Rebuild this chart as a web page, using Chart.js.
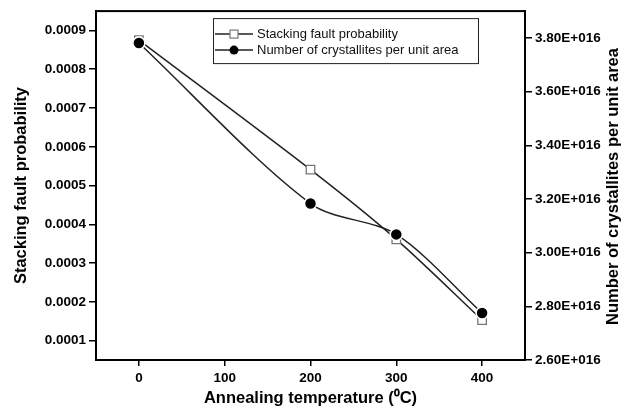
<!DOCTYPE html>
<html><head><meta charset="utf-8">
<script src="https://cdn.jsdelivr.net/npm/chart.js@4.4.1/dist/chart.umd.min.js"></script>
<style>html,body{margin:0;padding:0;background:#fff}</style>
</head><body>
<canvas id="c" width="627" height="416"></canvas>
<script>
// ---- data ----
const temperatures = [0, 200, 300, 400];
const stackingFault = [0.000875, 0.000541, 0.000361, 0.000153];
const crystallites = [3.781e16, 3.183e16, 3.068e16, 2.775e16];
const xTickValues = [0, 100, 200, 300, 400];
const leftTickValues = [0.0001, 0.0002, 0.0003, 0.0004, 0.0005, 0.0006, 0.0007, 0.0008, 0.0009];
const rightTickValues = [2.6e16, 2.8e16, 3.0e16, 3.2e16, 3.4e16, 3.6e16, 3.8e16];
const seriesNames = ['Stacking fault probability', 'Number of crystallites per unit area'];
const rightAxisTitle = 'Number of crystallites per unit area';

const FONT = "'Liberation Sans', Arial, sans-serif";
Chart.defaults.font.family = FONT;
Chart.defaults.color = '#000';

const tickFont = {size: 13.5, weight: 'bold'};
const titleFont = {size: 16.5, weight: 'bold'};

const framePlugin = {
  id: 'frame',
  afterDatasetsDraw(chart) {
    const {ctx, chartArea: a} = chart;
    ctx.save();
    ctx.strokeStyle = '#000';
    ctx.lineWidth = 2;
    ctx.strokeRect(a.left, a.top, a.right - a.left, a.bottom - a.top);
    ctx.restore();
  }
};

const rightTitlePlugin = {
  id: 'rightTitle',
  afterDraw(chart) {
    const {ctx, chartArea: a} = chart;
    ctx.save();
    ctx.translate(613, (a.top + a.bottom) / 2 + 1);
    ctx.rotate(-Math.PI / 2);
    ctx.font = "bold 16.5px " + FONT;
    ctx.fillStyle = '#000';
    ctx.textAlign = 'center';
    ctx.textBaseline = 'middle';
    ctx.fillText(rightAxisTitle, 0, 0);
    ctx.restore();
  }
};

const legendPlugin = {
  id: 'insideLegend',
  afterDraw(chart) {
    const {ctx, chartArea: a} = chart;
    const bx = a.left + 117, by = a.top + 7, bw = 265, bh = 45;
    ctx.save();
    ctx.fillStyle = '#fff';
    ctx.fillRect(bx, by, bw, bh);
    ctx.strokeStyle = '#222';
    ctx.lineWidth = 1;
    ctx.strokeRect(bx + 0.5, by + 0.5, bw, bh);
    const rows = [by + 16, by + 32];
    ctx.font = "13px " + FONT;
    ctx.textBaseline = 'middle';
    ctx.textAlign = 'left';
    rows.forEach((y, i) => {
      ctx.strokeStyle = '#222';
      ctx.lineWidth = 1.5;
      ctx.beginPath();
      ctx.moveTo(bx + 2, y);
      ctx.lineTo(bx + 40, y);
      ctx.stroke();
      const mx = bx + 21;
      if (i === 0) {
        ctx.fillStyle = '#fff';
        ctx.fillRect(mx - 4, y - 4, 8, 8);
        ctx.strokeStyle = '#777';
        ctx.lineWidth = 1.2;
        ctx.strokeRect(mx - 4, y - 4, 8, 8);
      } else {
        ctx.fillStyle = '#000';
        ctx.beginPath();
        ctx.arc(mx, y, 4.5, 0, Math.PI * 2);
        ctx.fill();
      }
      ctx.fillStyle = '#111';
      ctx.fillText(seriesNames[i], bx + 44, y);
    });
    ctx.restore();
  }
};

new Chart(document.getElementById('c'), {
  type: 'line',
  data: {
    datasets: [
      {
        label: seriesNames[0],
        data: temperatures.map((t, i) => ({x: t, y: stackingFault[i]})),
        yAxisID: 'y',
        borderColor: '#222',
        borderWidth: 1.5,
        tension: 0.3,
        pointStyle: 'rect',
        pointRadius: 6,
        pointBackgroundColor: '#fff',
        pointBorderColor: '#777',
        pointBorderWidth: 1.3,
        order: 2
      },
      {
        label: seriesNames[1],
        data: temperatures.map((t, i) => ({x: t, y: crystallites[i]})),
        yAxisID: 'y1',
        borderColor: '#222',
        borderWidth: 1.5,
        tension: 0.3,
        pointStyle: 'circle',
        pointRadius: 6,
        pointBackgroundColor: '#000',
        pointBorderColor: '#fff',
        pointBorderWidth: 1.5,
        order: 1
      }
    ]
  },
  options: {
    responsive: false,
    animation: false,
    devicePixelRatio: 1,
    layout: {padding: {top: 10, left: 0, right: 0, bottom: 0}},
    plugins: {legend: {display: false}, tooltip: {enabled: false}},
    scales: {
      x: {
        type: 'linear',
        min: -50, max: 450,
        afterBuildTicks: s => { s.ticks = xTickValues.map(v => ({value: v})); },
        afterFit: s => { s.height = 56; },
        grid: {drawOnChartArea: false, drawTicks: true, tickLength: 6, color: '#000', lineWidth: 1.5},
        border: {display: true, color: '#000', width: 2},
        ticks: {font: tickFont, padding: 4, maxRotation: 0, color: '#000'},
        title: {display: true, text: 'Annealing temperature (\u2070C)', font: titleFont, color: '#000', padding: 8}
      },
      y: {
        type: 'linear', position: 'left',
        min: 0.00005, max: 0.00095,
        afterBuildTicks: s => { s.ticks = leftTickValues.map(v => ({value: v})); },
        afterFit: s => { s.width = 96; },
        grid: {drawOnChartArea: false, drawTicks: true, tickLength: 7, color: '#000', lineWidth: 1.5},
        border: {display: true, color: '#000', width: 2},
        ticks: {font: tickFont, padding: 3, color: '#000', callback: v => v.toFixed(4)},
        title: {display: true, text: 'Stacking fault probability', font: titleFont, color: '#000', padding: 12}
      },
      y1: {
        type: 'linear', position: 'right',
        min: 2.6e16, max: 3.9e16,
        afterBuildTicks: s => { s.ticks = rightTickValues.map(v => ({value: v})); },
        afterFit: s => { s.width = 102; },
        grid: {drawOnChartArea: false, drawTicks: true, tickLength: 7, color: '#000', lineWidth: 1.5},
        border: {display: true, color: '#000', width: 2},
        ticks: {font: tickFont, padding: 3, color: '#000', callback: v => (v / 1e16).toFixed(2) + 'E+016'},
        title: {display: false}
      }
    }
  },
  plugins: [framePlugin, legendPlugin, rightTitlePlugin]
});
</script>
</body></html>
